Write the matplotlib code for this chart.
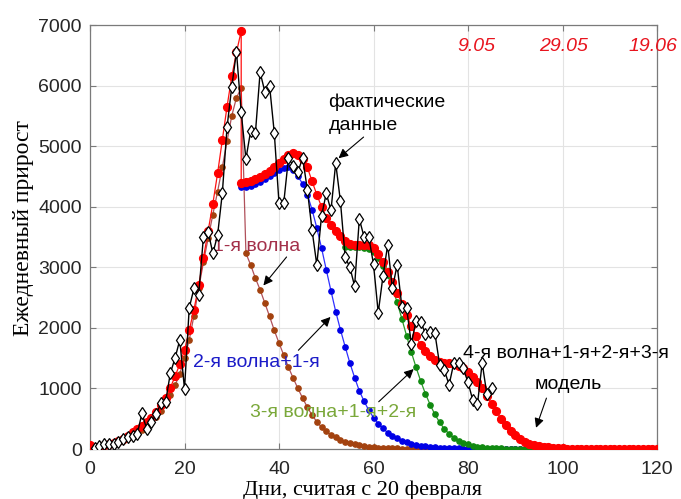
import matplotlib
matplotlib.use("Agg")
import matplotlib.pyplot as plt
import numpy as np

# ---------------- data ----------------
fact_days = list(range(1, 86))
fact_vals = [20, 50, 80, 90, 80, 110, 170, 200, 220, 250,
             590, 330, 445, 570, 760, 780, 1250, 1500, 1800, 990,
             2330, 2650, 2540, 3500, 3590, 3230, 3530, 4220, 5310, 5980,
             6560, 5560, 4790, 5250, 5210, 6220, 5900, 6000, 5220, 4060,
             4060, 4800, 4680, 4570, 4810, 4280, 3610, 3040, 3850, 4220,
             3940, 4720, 4090, 3170, 3000, 2690, 3800, 3500, 3500, 3050,
             2250, 2850, 3370, 2650, 3040, 2350, 2330, 1740, 2110, 2100,
             1900, 1930, 1910, 1390, 1300, 1060, 1420, 1420, 1330, 1100,
             810, 740, 1420, 900, 1000]

# model (sum of all waves): first segment days 0..32, second segment days 32..120
model_days = list(range(0, 33)) + list(range(32, 121))
model_vals = [60, 30, 40, 60, 80, 100, 130, 170, 220, 280,
              330, 380, 440, 520, 610, 720, 850, 1010, 1200, 1400,
              1630, 1960, 2300, 2700, 3150, 3600, 4050, 4550, 5100, 5650,
              6150, 6550, 6900,
              4390, 4400, 4420, 4450, 4490, 4540, 4590, 4650, 4720, 4790,
              4850, 4880, 4860, 4790, 4650, 4420, 4200, 4000, 3820, 3690,
              3600, 3510, 3430, 3390, 3375, 3370, 3370, 3360, 3320, 3220,
              3080, 2920, 2750, 2580, 2400, 2220, 2030, 1860, 1720, 1610,
              1530, 1470, 1430, 1420, 1420, 1400, 1370, 1330, 1270, 1190,
              1100, 1000, 880, 750, 620, 500, 390, 300, 225, 165,
              120, 90, 65, 48, 36, 27, 20, 15, 11, 8,
              6, 5, 4, 3, 2, 2, 1, 1, 1, 1,
              0, 0, 0, 0, 0, 0, 0, 0, 0]

wave1_days = list(range(0, 121))
wave1_vals = [40, 25, 35, 50, 65, 85, 110, 140, 180, 225,
              270, 320, 380, 450, 530, 630, 750, 890, 1050, 1240,
              1500, 1800, 2200, 2650, 3080, 3480, 3870, 4250, 4650, 5080,
              5500, 5800, 5960,
              3230, 3040, 2820, 2630, 2410, 2190, 1960, 1750, 1550, 1350,
              1170, 1000, 840, 690, 560, 450, 360, 290, 235, 190,
              150, 120, 95, 75, 60, 47, 37, 29, 23, 18,
              14, 11, 9, 7, 5, 4, 3, 3, 2, 2,
              1, 1, 1, 1, 1, 0, 0, 0, 0, 0,
              0, 0, 0, 0, 0, 0, 0, 0, 0, 0,
              0, 0, 0, 0, 0, 0, 0, 0, 0, 0,
              0, 0, 0, 0, 0, 0, 0, 0, 0, 0,
              0, 0, 0, 0, 0, 0, 0, 0]

wave12_days = list(range(32, 121))
wave12_vals = [4320, 4330, 4350, 4380, 4410, 4450, 4500, 4550, 4600, 4640,
               4650, 4600, 4500, 4380, 4200, 3950, 3650, 3320, 2960, 2610,
               2270, 1970, 1690, 1420, 1180, 960, 790, 640, 520, 420,
               340, 270, 220, 175, 140, 110, 88, 70, 56, 45,
               36, 29, 23, 18, 14, 11, 9, 7, 5, 4,
               3, 3, 2, 2, 1, 1, 1, 1, 0, 0,
               0, 0, 0, 0, 0, 0, 0, 0, 0, 0,
               0, 0, 0, 0, 0, 0, 0, 0, 0, 0,
               0, 0, 0, 0, 0, 0, 0, 0, 0]

wave123_days = list(range(54, 121))
wave123_vals = [3340, 3335, 3330, 3330, 3320, 3300, 3250, 3150, 3020, 2870,
                2660, 2420, 2150, 1870, 1600, 1350, 1120, 910, 730, 570,
                440, 330, 250, 185, 135, 100, 75, 55, 40, 30,
                22, 16, 12, 9, 7, 5, 4, 3, 2, 2,
                1, 1, 1, 1, 0, 0, 0, 0, 0, 0,
                0, 0, 0, 0, 0, 0, 0, 0, 0, 0,
                0, 0, 0, 0, 0, 0, 0]

x_ticks = [0, 20, 40, 60, 80, 100, 120]
y_ticks = [0, 1000, 2000, 3000, 4000, 5000, 6000, 7000]
date_labels = ["9.05", "29.05", "19.06"]
date_days = [81.7, 100.3, 119.2]

# ---------------- figure ----------------
plt.rcParams['font.family'] = ['Liberation Sans', 'DejaVu Sans']
fig = plt.figure(figsize=(6.81, 4.99), dpi=100)
ax = fig.add_axes([90/681, 50/499, 567/681, 424/499])

ax.set_xlim(0, 120)
ax.set_ylim(0, 7000)
ax.set_xticks(x_ticks)
ax.set_yticks(y_ticks)
ax.grid(True, color='#e3e3e3', linewidth=0.8)
ax.set_axisbelow(True)
for s in ax.spines.values():
    s.set_color('#7a7a7a')
    s.set_linewidth(0.9)
ax.tick_params(direction='in', length=4, width=0.8, color='#7a7a7a',
               top=True, right=True, labelsize=14, labelcolor='#262626')
ax.tick_params(axis='x', pad=9)
ax.tick_params(axis='y', pad=6)

brown_m = '#a3420f'
brown_l = '#b0505a'
ax.plot(wave1_days, wave1_vals, '-', color=brown_l, lw=0.9, marker='o',
        ms=3.8, mfc=brown_m, mec=brown_m, zorder=3)
ax.plot(wave12_days, wave12_vals, '-', color='#3030ff', lw=0.9, marker='o',
        ms=3.8, mfc='#0000e6', mec='#0000e6', zorder=3)
ax.plot(wave123_days, wave123_vals, '-', color='#2a9a2a', lw=0.9, marker='o',
        ms=3.8, mfc='#108a10', mec='#108a10', zorder=3)
ax.plot(model_days, model_vals, '-', color='#ff1010', lw=0.9, marker='o',
        ms=5.6, mfc='#ff0000', mec='#ff0000', zorder=4)
ax.plot(fact_days, fact_vals, '-', color='black', lw=1.0, marker='d',
        ms=6.0, mfc='white', mec='black', mew=0.9, zorder=5)

ax.set_xlabel('Дни, считая с 20 февраля', family=['Liberation Serif', 'DejaVu Serif'],
              fontsize=16, color='black')
ax.set_ylabel('Ежедневный прирост', family=['Liberation Serif', 'DejaVu Serif'],
              fontsize=17, color='black')
ax.xaxis.set_label_coords(0.48, -0.075)
ax.yaxis.set_label_coords(-0.098, 0.52)

ap = dict(arrowstyle='-|>', color='black', lw=0.8, mutation_scale=14,
          shrinkA=0, shrinkB=0)
fs = 14
ax.text(50.5, 5540, 'фактические\nданные', fontsize=fs, ha='left', va='center',
        color='black', linespacing=1.45)
ax.annotate('', xy=(52.6, 4800), xytext=(57.9, 5150), arrowprops=ap)

ax.text(26.1, 3350, '1-я волна', fontsize=fs, ha='left', va='center', color='#a3304a')
ax.annotate('', xy=(36.7, 2700), xytext=(41.6, 3170), arrowprops=ap)

ax.text(21.8, 1435, '2-я волна+1-я', fontsize=fs, ha='left', va='center', color='#1c1cc8')
ax.annotate('', xy=(50.9, 2180), xytext=(44.1, 1630), arrowprops=ap)

ax.text(33.9, 610, '3-я волна+1-я+2-я', fontsize=fs, ha='left', va='center', color='#7aa83a')
ax.annotate('', xy=(68.5, 1320), xytext=(61.1, 780), arrowprops=ap)

ax.text(78.9, 1584, '4-я волна+1-я+2-я+3-я', fontsize=fs, ha='left', va='center', color='black')
ax.text(94.2, 1073, 'модель', fontsize=fs, ha='left', va='center', color='black')
ax.annotate('', xy=(94.4, 350), xytext=(96.6, 840), arrowprops=ap)

for lab, d in zip(date_labels, date_days):
    ax.text(d, 6650, lab, fontsize=14, style='italic', color='#e8141e',
            ha='center', va='center', clip_on=False)

fig.savefig('out.png', dpi=100)
